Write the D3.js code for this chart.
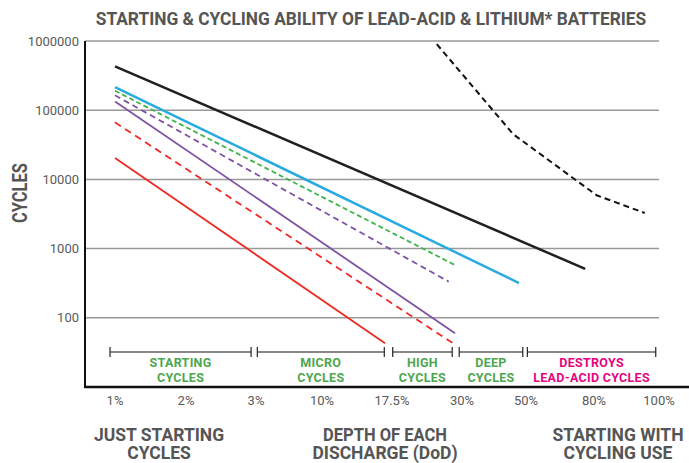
<!DOCTYPE html>
<html lang="en">
<head>
<meta charset="utf-8">
<title>Starting & Cycling Ability</title>
<script src="https://d3js.org/d3.v7.min.js"></script>
<style>
  body { margin: 0; background: #fff; }
  text { font-family: Roboto, "Liberation Sans", sans-serif; }
  .grid { stroke: #999; stroke-width: 1.5px; }
  .tick-y, .tick-x { fill: #5a5a5a; font-size: 13px; }
  .big { fill: #555; font-weight: bold; }
  .band { font-weight: bold; font-size: 12.5px; letter-spacing: 0.3px; }
</style>
</head>
<body>
<script>
// x categories (depth of discharge), y tick values
var dod = ["1%", "2%", "3%", "10%", "17.5%", "30%", "50%", "80%", "100%"];
var yTicks = [100, 1000, 10000, 100000, 1000000];

// each series: [position along the DoD axis (category index), cycles]
var blackSolid  = [[0, 430000], [6.87, 510]];
var blueSolid   = [[0, 216000], [5.89, 318]];
var greenDash   = [[0, 191000], [4.89, 585]];
var purpleDash  = [[0, 164000], [4.81, 333]];
var purpleSolid = [[0, 134000], [4.9, 60]];
var redDash     = [[0, 66700], [4.87, 43]];
var redSolid    = [[0, 20400], [3.9, 43]];
var blackDash   = [[4.64, 900000], [5.8, 45000], [7.04, 5900], [7.78, 3270]];

// usage bands under the lines
var bandLabels = [["STARTING", "CYCLES"], ["MICRO", "CYCLES"], ["HIGH", "CYCLES"],
                  ["DEEP", "CYCLES"], ["DESTROYS", "LEAD-ACID CYCLES"]];
var bandSpans = [[-0.07, 1.93], [2.02, 3.89], [4.01, 4.86], [4.96, 5.95], [6.02, 7.95]];

var width = 689, height = 463;
var svg = d3.select("body").append("svg")
  .attr("width", width)
  .attr("height", height);

var x = d3.scaleLinear()
  .domain(d3.range(dod.length))
  .range([115, 186, 256, 322, 392, 462, 526, 594, 659]);
var y = d3.scaleLog().domain([10, 1000000]).range([387, 41]);

// gridlines
svg.append("g").selectAll("line")
  .data(yTicks)
  .enter().append("line")
  .attr("class", "grid")
  .attr("x1", 85).attr("x2", 659)
  .attr("y1", d => y(d)).attr("y2", d => y(d));

svg.append("g").selectAll("text")
  .data(yTicks)
  .enter().append("text")
  .attr("class", "tick-y")
  .attr("x", 79)
  .attr("y", d => y(d))
  .attr("dy", "0.36em")
  .attr("text-anchor", "end")
  .text(d => d);

svg.append("g").selectAll("text")
  .data(dod)
  .enter().append("text")
  .attr("class", "tick-x")
  .attr("x", (d, i) => x(i))
  .attr("y", 405)
  .attr("text-anchor", "middle")
  .text(d => d);

// lines
var line = d3.line().x(d => x(d[0])).y(d => y(d[1]));
var series = [
  {data: blackSolid,  color: "#231f20", w: 2.5, dash: null},
  {data: blueSolid,   color: "#29aae1", w: 2.5, dash: null},
  {data: greenDash,   color: "#3cb54a", w: 1.8, dash: "5,3"},
  {data: purpleDash,  color: "#7f52a3", w: 1.8, dash: "6,4"},
  {data: purpleSolid, color: "#7f52a3", w: 1.8, dash: null},
  {data: redDash,     color: "#ee2a24", w: 1.8, dash: "7,5"},
  {data: redSolid,    color: "#ee2a24", w: 1.8, dash: null},
  {data: blackDash,   color: "#111",    w: 2,   dash: "6,4"}
];
svg.append("g").selectAll("path")
  .data(series)
  .enter().append("path")
  .attr("d", d => line(d.data))
  .attr("fill", "none")
  .attr("stroke", d => d.color)
  .attr("stroke-width", d => d.w)
  .attr("stroke-dasharray", d => d.dash);

// bands
var bandY = 352;
var bands = svg.append("g").selectAll("g")
  .data(bandSpans)
  .enter().append("g");
bands.append("line")
  .attr("x1", d => x(d[0])).attr("x2", d => x(d[1]))
  .attr("y1", bandY).attr("y2", bandY)
  .attr("stroke", "#888").attr("stroke-width", 2);
bands.each(function(d) {
  d3.select(this).selectAll(".end")
    .data(d)
    .enter().append("line")
    .attr("x1", v => x(v)).attr("x2", v => x(v))
    .attr("y1", bandY - 5).attr("y2", bandY + 5)
    .attr("stroke", "#222").attr("stroke-width", 1.2);
});
bands.each(function(d, i) {
  var cx = (x(d[0]) + x(d[1])) / 2;
  var t = d3.select(this).append("text")
    .attr("class", "band")
    .attr("text-anchor", "middle")
    .attr("fill", i === 4 ? "#e6057f" : "#4ea64f");
  t.append("tspan").attr("x", cx).attr("y", 367).text(bandLabels[i][0]);
  t.append("tspan").attr("x", cx).attr("y", 381.8).text(bandLabels[i][1]);
});

// axes
svg.append("line")
  .attr("x1", 85).attr("x2", 85).attr("y1", 41).attr("y2", 388)
  .attr("stroke", "#111").attr("stroke-width", 2);
svg.append("line")
  .attr("x1", 84).attr("x2", width).attr("y1", 387).attr("y2", 387)
  .attr("stroke", "#111").attr("stroke-width", 2.5);

// condensed bold text: squeeze horizontally to a target width
function squeezed(str, cx, cy, size, w, rotate) {
  var g = svg.append("g");
  var t = g.append("text")
    .attr("class", "big")
    .attr("text-anchor", "middle")
    .attr("font-size", size)
    .text(str);
  var k = Math.min(1, w / t.node().getComputedTextLength());
  g.attr("transform", "translate(" + cx + "," + cy + ")" + (rotate ? " rotate(-90)" : "") + " scale(" + k + ",1)");
}

squeezed("STARTING & CYCLING ABILITY OF LEAD-ACID & LITHIUM* BATTERIES", 371, 24.5, 19, 551);
squeezed("CYCLES", 26.5, 193, 19.5, 60, true);

var footer = [
  {cx: 159, lines: ["JUST STARTING", "CYCLES"], w: [137, 70]},
  {cx: 385, lines: ["DEPTH OF EACH", "DISCHARGE (DoD)"], w: [124, 147]},
  {cx: 618, lines: ["STARTING WITH", "CYCLING USE"], w: [133, 115]}
];
footer.forEach(function(f) {
  f.lines.forEach(function(s, j) {
    squeezed(s, f.cx, 440.5 + j * 18.5, 17.5, f.w[j]);
  });
});
</script>
</body>
</html>
